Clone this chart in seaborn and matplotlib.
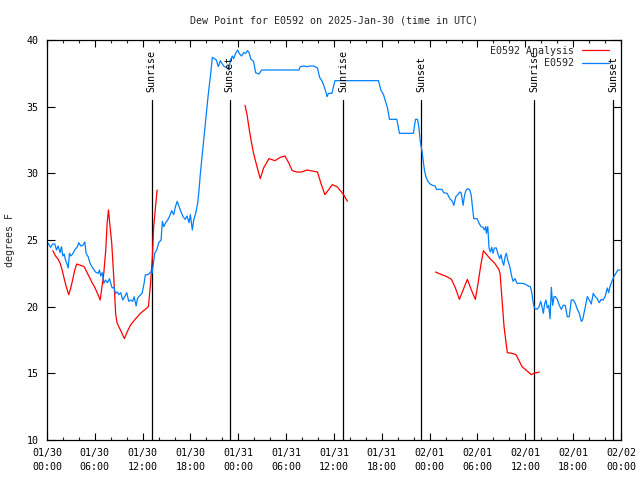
import numpy as np
import pandas as pd
import matplotlib
matplotlib.use("Agg")
import matplotlib.pyplot as plt
import matplotlib.dates as mdates
import seaborn as sns

# ---------------- data ----------------
base_date = "2025-01-30"

blue_hours = [0.15, 0.44, 0.73, 0.98, 1.19, 1.40, 1.65, 1.82, 1.98, 2.16, 2.32, 2.48, 2.66, 2.82, 2.98,
              3.23, 3.48, 3.82, 3.98, 4.24, 4.49, 4.74, 4.91, 5.16, 5.41, 5.74, 6.08, 6.42, 6.58, 6.74,
              6.92, 7.12, 7.33, 7.58, 7.83, 8.00, 8.17, 8.42, 8.58, 8.83, 9.00, 9.25, 9.50, 9.75, 10.00,
              10.25, 10.50, 10.75, 10.93, 11.18, 11.34, 11.50, 11.93, 12.18, 12.34, 12.68, 13.00, 13.18,
              13.35, 13.51, 13.76, 14.01, 14.31, 14.47, 14.64, 14.89, 15.14, 15.39, 15.64, 15.89, 16.07,
              16.32, 16.57, 16.82, 17.07, 17.32, 17.57, 17.82, 17.98, 18.23, 18.40, 18.65, 18.90, 19.07,
              19.24, 19.49, 19.74, 19.99, 20.24, 20.49, 20.74, 20.99, 21.24, 21.49, 21.74, 21.99, 22.24,
              22.58, 22.83, 23.00, 23.25, 23.41, 23.66, 23.91, 24.16, 24.41, 24.66, 24.91, 25.16, 25.34,
              25.59, 25.91, 26.17, 26.59, 26.92, 31.60, 31.77, 32.18, 32.61, 33.02, 33.43, 33.93, 34.19,
              34.52, 34.77, 35.03, 35.11, 35.31, 35.74, 35.94, 36.11, 41.58, 41.88, 42.21, 42.46, 42.71,
              42.96, 43.88, 44.21, 45.96, 46.22, 46.47, 46.64, 46.80, 47.05, 47.34, 47.52, 47.77, 48.06,
              48.35, 48.68, 48.85, 49.52, 49.77, 50.19, 50.53, 50.85, 51.03, 51.28, 51.53, 51.78, 51.94,
              52.03, 52.19, 52.36, 52.53, 52.78, 53.03, 53.20, 53.36, 53.53, 53.95, 54.20, 54.45, 54.70,
              54.86, 55.04, 55.11, 55.29, 55.45, 55.61, 55.79, 55.95, 56.12, 56.37, 56.54, 56.79, 56.95,
              57.12, 57.29, 57.46, 57.62, 57.79, 58.05, 58.30, 58.46, 58.71, 58.96, 59.62, 59.96, 60.38,
              60.63, 60.80, 60.96, 61.13, 61.47, 61.72, 61.93, 62.09, 62.26, 62.43, 62.59, 62.76, 62.93,
              63.10, 63.26, 63.43, 63.60, 63.76, 64.01, 64.26, 64.51, 64.76, 65.01, 65.26, 65.51, 65.76,
              66.02, 66.27, 66.52, 66.77, 67.02, 67.19, 67.36, 67.61, 67.77, 68.02, 68.27, 68.52, 68.77,
              69.02, 69.27, 69.52, 69.77, 70.03, 70.28, 70.45, 70.61, 70.86, 71.11, 71.36, 71.61, 71.86]
blue_vals = [24.75, 24.45, 24.7, 24.7, 24.25, 24.55, 24.05, 24.5, 23.8, 23.95, 23.5, 23.25, 22.9, 24.0, 23.8,
             23.95, 24.25, 24.5, 24.8, 24.55, 24.6, 24.85, 24.0, 23.75, 23.25, 22.9, 22.6, 22.5, 22.75, 22.3,
             22.55, 21.75, 22.0, 21.8, 22.1, 21.75, 21.4, 21.45, 21.0, 21.1, 20.9, 21.05, 20.5, 20.75, 21.05,
             20.4, 20.5, 20.4, 20.75, 20.05, 20.6, 20.75, 21.0, 21.75, 22.4, 22.4, 22.6, 22.5,
             23.25, 24.0, 24.25, 24.8, 25.0, 26.4, 26.0, 26.3, 26.5, 26.8, 27.2, 26.9, 27.4,
             27.9, 27.5, 27.1, 26.75, 26.55, 26.8, 26.3, 26.9, 25.75, 26.5, 27.0, 27.75, 28.75,
             30.0, 31.5, 33.0, 34.5, 36.0, 37.25, 38.7, 38.6, 38.5, 38.0, 38.45, 38.2, 38.0,
             37.95, 37.75, 38.5, 38.8, 38.6, 39.0, 39.25, 38.95, 38.8, 39.05, 39.0, 39.2, 39.05,
             38.55, 38.4, 37.55, 37.45, 37.75, 37.75, 38.0, 38.05, 38.0, 38.05, 38.05, 37.9, 37.2,
             36.9, 36.5, 36.0, 35.75, 36.0, 36.0, 36.5, 36.95, 36.95, 36.25, 35.9, 35.4, 34.9,
             34.05, 34.05, 33.0, 33.0, 34.05, 34.05, 33.5, 32.5, 31.6, 30.25, 29.75, 29.4, 29.2,
             29.1, 29.05, 28.8, 28.8, 28.55, 28.5, 28.1, 27.9, 27.6, 28.25, 28.4, 28.6, 28.55,
             28.25, 27.6, 28.3, 28.7, 28.85, 28.75, 28.4, 27.5, 26.6, 26.6, 26.25, 26.0, 25.95,
             25.75, 26.0, 25.5, 26.0, 24.4, 24.1, 24.45, 24.0, 24.4, 24.4, 24.0, 23.6, 23.9,
             23.4, 23.1, 23.75, 24.0, 23.5, 23.0, 22.25, 21.9, 22.1, 21.75, 21.75, 21.7, 21.55,
             21.5, 21.1, 20.4, 19.9, 19.8, 20.0, 20.4, 20.0, 19.5, 20.25, 20.5, 19.9, 20.1,
             19.1, 21.45, 20.1, 20.75, 20.75, 20.55, 20.1, 19.8, 20.1, 20.1, 19.25, 19.25, 20.5,
             20.5, 20.25, 19.8, 19.5, 18.9, 19.0, 19.5, 20.25, 20.75, 20.5, 20.2, 21.0, 20.75,
             20.6, 20.3, 20.55, 20.5, 20.8, 21.4, 21.05, 21.5, 21.9, 22.25, 22.5, 22.75, 22.75]

red1_hours = [0.73, 1.07, 1.40, 1.65, 1.90, 2.16, 2.41, 2.73, 2.98, 3.23, 3.48, 3.73, 4.24, 4.66, 4.99,
              5.33, 5.66, 5.99, 6.33, 6.67, 7.12, 7.37, 7.54, 7.71, 7.87, 8.12, 8.37, 8.62, 8.80, 9.21,
              9.71, 10.05, 10.46, 11.05, 11.72, 12.72, 12.97, 13.22, 13.38, 13.81]
red1_vals = [24.2, 23.8, 23.55, 23.25, 22.75, 22.1, 21.5, 20.9, 21.4, 22.05, 22.75, 23.2, 23.1, 23.0, 22.6,
             22.2, 21.8, 21.45, 21.0, 20.5, 22.5, 24.25, 26.25, 27.25, 26.25, 24.75, 22.25, 19.4, 18.75, 18.25,
             17.6, 18.1, 18.6, 19.05, 19.5, 20.0, 21.6, 23.75, 26.0, 28.75]
red2_hours = [24.84, 25.09, 25.34, 25.59, 25.91, 26.34, 26.75, 27.17, 27.84, 28.60, 29.26, 29.85, 30.35,
              30.76, 31.35, 31.93, 32.61, 33.93, 34.36, 34.86, 35.36, 35.78, 36.37, 36.94, 37.19, 37.69]
red2_vals = [35.1, 34.4, 33.4, 32.5, 31.5, 30.5, 29.6, 30.4, 31.1, 30.95, 31.2, 31.3, 30.75,
             30.2, 30.1, 30.1, 30.25, 30.1, 29.25, 28.4, 28.8, 29.15, 29.0, 28.6, 28.4, 27.9]
red3_hours = [48.72, 49.31, 50.15, 50.73, 51.23, 51.73, 52.23, 52.73, 53.23, 53.73, 54.07, 54.41, 54.74,
              55.08, 55.58, 56.17, 56.67, 56.83, 57.08, 57.33, 57.74, 58.33, 58.83, 59.17, 59.59, 60.18,
              60.75, 61.09, 61.43, 61.75]
red3_vals = [22.6, 22.45, 22.25, 22.05, 21.4, 20.55, 21.3, 22.05, 21.25, 20.55, 21.75, 23.1, 24.2,
             23.95, 23.6, 23.25, 22.8, 22.5, 20.5, 18.5, 16.55, 16.5, 16.4, 16.0, 15.5, 15.2,
             14.9, 15.0, 15.05, 15.1]

sun_events = ["Sunrise", "Sunset", "Sunrise", "Sunset", "Sunrise", "Sunset"]
sun_times = ["2025-01-30 13:08", "2025-01-30 22:54", "2025-01-31 13:10",
             "2025-01-31 22:58", "2025-02-01 13:07", "2025-02-01 23:00"]

title = "Dew Point for E0592 on 2025-Jan-30 (time in UTC)"
ylabel = "degrees F"
label_red = "E0592 Analysis"
label_blue = "E0592"

# ---------------- build frames ----------------
t0 = pd.Timestamp(base_date)
blue_df = pd.DataFrame({"time": t0 + pd.to_timedelta(blue_hours, unit="h"), "dew": blue_vals})
red_parts = []
for i, (hh, vv) in enumerate([(red1_hours, red1_vals), (red2_hours, red2_vals), (red3_hours, red3_vals)]):
    red_parts.append(pd.DataFrame({"time": t0 + pd.to_timedelta(hh, unit="h"), "dew": vv, "seg": i}))
red_df = pd.concat(red_parts, ignore_index=True)

# ---------------- plot ----------------
sns.set_theme(style="ticks")
plt.rcParams["font.family"] = ["DejaVu Sans Mono"]
plt.rcParams["font.size"] = 7.2

fig = plt.figure(figsize=(6.4, 4.8), dpi=100)
ax = fig.add_axes([47 / 640, 40 / 480, 574 / 640, 400 / 480])

sns.lineplot(data=red_df, x="time", y="dew", units="seg", estimator=None,
             color="#ff0000", linewidth=0.9, ax=ax, legend=False)
n_red = len(ax.lines)
sns.lineplot(data=blue_df, x="time", y="dew", color="#0080ff",
             linewidth=0.9, ax=ax, legend=False)
red_handle = ax.lines[0]
blue_handle = ax.lines[n_red]

ax.set_ylim(10, 40)
ax.set_xlim(t0, t0 + pd.Timedelta(hours=72))

for name, ts in zip(sun_events, sun_times):
    t = pd.Timestamp(ts)
    ax.plot([t, t], [10, 35.5], color="black", linewidth=0.9, zorder=1)
    ax.text(t, 36.1, name, rotation=90, ha="center", va="bottom", fontsize=7.2, color="black")

ax.xaxis.set_major_locator(mdates.HourLocator(byhour=[0, 6, 12, 18]))
ax.xaxis.set_minor_locator(mdates.HourLocator(interval=2))
ax.xaxis.set_major_formatter(mdates.DateFormatter("%m/%d\n%H:%M"))
ax.set_yticks([10, 15, 20, 25, 30, 35, 40])

ax.tick_params(axis="x", which="major", direction="in", length=5, width=0.8,
               top=True, bottom=True, pad=6, labelsize=7.2, colors="black")
ax.tick_params(axis="x", which="minor", direction="in", length=2.5, width=0.8,
               top=True, bottom=True)
ax.tick_params(axis="y", which="major", direction="in", length=6, width=0.8,
               left=True, right=True, pad=6, labelsize=7.2, colors="black")
for lab in ax.get_xticklabels():
    lab.set_linespacing(1.5)

for sp in ax.spines.values():
    sp.set_visible(True)
    sp.set_color("black")
    sp.set_linewidth(0.9)

ax.set_xlabel("")
ax.set_ylabel(ylabel, fontsize=7.2)
ax.yaxis.set_label_coords(-32 / 574, 0.5)
ax.set_title(title, fontsize=7.2, pad=12)

leg = ax.legend([red_handle, blue_handle], [label_red, label_blue],
                loc="upper right", bbox_to_anchor=((609 - 47) / 574, 0.985),
                frameon=False, markerfirst=False, fontsize=7.2, borderpad=0,
                handlelength=2.7, handletextpad=0.8, labelspacing=0.25, borderaxespad=0)

fig.savefig("out.png", dpi=100)
